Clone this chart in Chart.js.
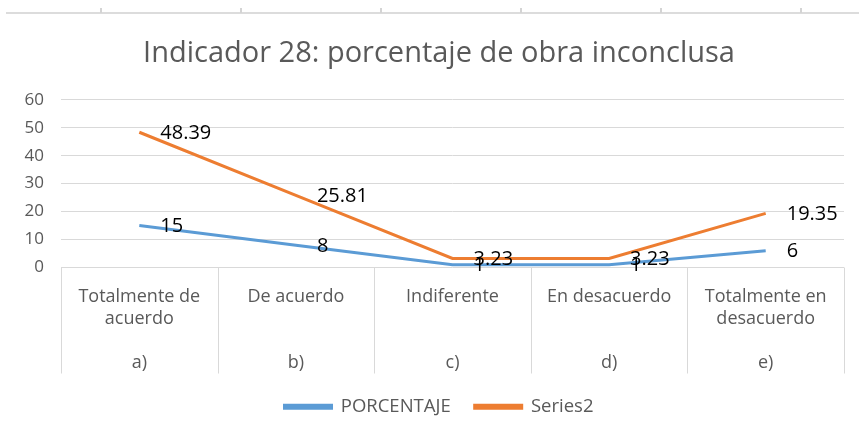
<!DOCTYPE html>
<html>
<head>
<meta charset="utf-8">
<script src="https://cdn.jsdelivr.net/npm/chart.js@4/dist/chart.umd.min.js"></script>
<style>
  html, body { margin: 0; padding: 0; background: #fff; }
  #wrap { position: relative; width: 859px; height: 434px; }
  /* thin remnant of the chart above, cropped at the top edge */
  #topEdge { position: absolute; left: 6px; top: 12px; width: 853px; height: 2px; background: #dcdcdc; }
  #topTicks { position: absolute; left: 100px; top: 8px; width: 702px; height: 5px;
    background: repeating-linear-gradient(to right, #d4d4d4 0 2px, transparent 2px 140px); }
</style>
</head>
<body>
<div id="wrap">
  <div id="topEdge"></div>
  <div id="topTicks"></div>
  <canvas id="chart" width="859" height="434"></canvas>
</div>
<script>
// --- DATA ---
var categories = [['Totalmente de', 'acuerdo'], ['De acuerdo'], ['Indiferente'], ['En desacuerdo'], ['Totalmente en', 'desacuerdo']];
var letters = ['a)', 'b)', 'c)', 'd)', 'e)'];
var porcentaje = [15, 8, 1, 1, 6];
var series2 = [48.39, 25.81, 3.23, 3.23, 19.35];
var yTicks = [0, 10, 20, 30, 40, 50, 60];

// two-level axis: category name on top rows, letter on the 4th row
var xLabels = categories.map(function (c, i) {
  var rows = c.slice();
  while (rows.length < 3) rows.push('');
  rows.push(letters[i]);
  return rows;
});

var FONT = '"Open Sans", sans-serif';
var GRAY = '#595959';
var GRID = '#d9d9d9';

// Data labels, placed to the right of each point (Excel "Right" position)
var pointLabels = {
  id: 'pointLabels',
  afterDatasetsDraw: function (chart) {
    var ctx = chart.ctx;
    ctx.save();
    ctx.font = '20px ' + FONT;
    ctx.fillStyle = '#000';
    ctx.textAlign = 'left';
    ctx.textBaseline = 'middle';
    chart.data.datasets.forEach(function (ds, i) {
      chart.getDatasetMeta(i).data.forEach(function (pt, j) {
        ctx.fillText(String(ds.data[j]), pt.x + 21, pt.y + 1);
      });
    });
    ctx.restore();
  }
};

// Vertical separators between categories, down through the label rows
var separators = {
  id: 'separators',
  afterDraw: function (chart) {
    var x = chart.scales.x;
    var step = x.width / categories.length;
    var ctx = chart.ctx;
    ctx.save();
    ctx.strokeStyle = GRID;
    ctx.lineWidth = 1;
    for (var i = 0; i <= categories.length; i++) {
      var px = Math.round(x.left + i * step) + 0.5;
      ctx.beginPath();
      ctx.moveTo(px, x.top);
      ctx.lineTo(px, x.bottom);
      ctx.stroke();
    }
    ctx.restore();
  }
};

// Title and legend sit a bit right of the canvas centre in the original
var nudgeRight = {
  id: 'nudgeRight',
  afterLayout: function (chart) {
    [chart.titleBlock, chart.legend].forEach(function (box) {
      if (box) box.left += 34;
    });
  }
};

new Chart(document.getElementById('chart'), {
  type: 'line',
  data: {
    labels: xLabels,
    datasets: [{
      label: 'PORCENTAJE',
      data: porcentaje,
      borderColor: '#5b9bd5',
      backgroundColor: '#5b9bd5',
      borderWidth: 3,
      pointRadius: 0,
      tension: 0
    }, {
      label: 'Series2',
      data: series2,
      borderColor: '#ed7d31',
      backgroundColor: '#ed7d31',
      borderWidth: 3,
      pointRadius: 0,
      tension: 0
    }]
  },
  options: {
    responsive: false,
    animation: false,
    layout: { padding: { left: 0, right: 15, top: 0, bottom: 8 } },
    plugins: {
      title: {
        display: true,
        text: 'Indicador 28: porcentaje de obra inconclusa',
        color: GRAY,
        font: { family: FONT, size: 29, weight: 'normal' },
        padding: { top: 36, bottom: 29 }
      },
      legend: {
        position: 'bottom',
        labels: {
          color: GRAY,
          font: { family: FONT, size: 18.5 },
          boxWidth: 47,
          boxHeight: 3,
          padding: 24
        }
      },
      tooltip: { enabled: false }
    },
    scales: {
      y: {
        min: 0,
        max: 60,
        afterBuildTicks: function (scale) {
          scale.ticks = yTicks.map(function (v) { return { value: v }; });
        },
        afterFit: function (scale) { scale.width = 61; },
        border: { display: false },
        grid: { color: GRID, lineWidth: 1, drawTicks: false },
        ticks: { color: GRAY, font: { family: FONT, size: 17 }, padding: 17 }
      },
      x: {
        offset: true,
        afterFit: function (scale) { scale.height = 106; },
        border: { display: false },
        grid: { display: false, drawTicks: false },
        ticks: { color: GRAY, font: { family: FONT, size: 18, lineHeight: '22px' }, padding: 18, maxRotation: 0, autoSkip: false }
      }
    }
  },
  plugins: [pointLabels, separators, nudgeRight]
});
</script>
</body>
</html>
